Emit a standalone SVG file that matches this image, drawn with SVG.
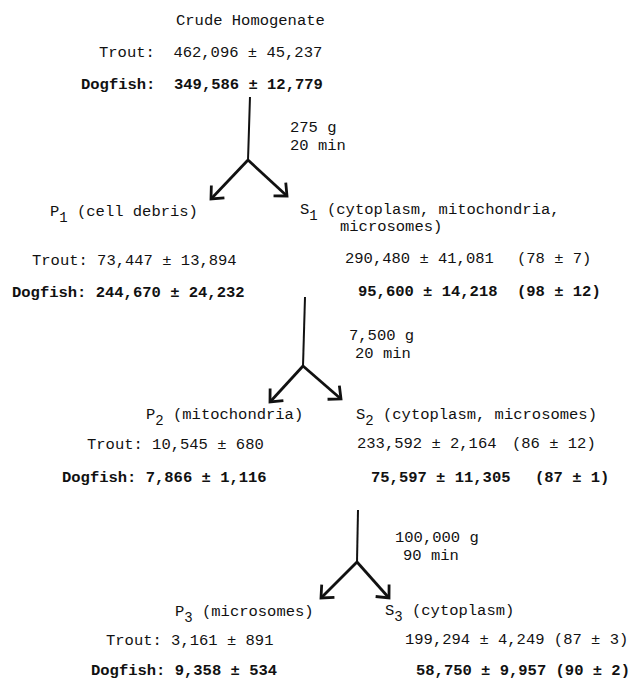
<svg xmlns="http://www.w3.org/2000/svg" width="635" height="680" viewBox="0 0 635 680">
<style>
text{font-family:"Liberation Mono","Courier New",monospace;font-size:15.5px;fill:#111;white-space:pre}
.b{font-weight:bold}
.sub{font-size:14px}
.stem{stroke:#111;stroke-width:2;fill:none}
.br{stroke:#111;stroke-width:2.8;fill:none;marker-end:url(#ah)}
</style>
<defs>
<marker id="ah" markerUnits="userSpaceOnUse" markerWidth="24" markerHeight="24" viewBox="-14 -12 16 24" refX="0" refY="0" orient="auto">
<path d="M-10,-9 L0,0 L-10,9" fill="none" stroke="#111" stroke-width="2.8" stroke-linejoin="miter"/>
</marker>
</defs>
<g id="connectors">
<path class="stem" d="M250,97 L248,160"/>
<path class="br" d="M248,160 L211,199"/>
<path class="br" d="M248,160 L287,196"/>
<path class="stem" d="M305,297 L303,366"/>
<path class="br" d="M303,366 L270,402"/>
<path class="br" d="M303,366 L341,399"/>
<path class="stem" d="M358,510 L357,562"/>
<path class="br" d="M357,562 L321,598"/>
<path class="br" d="M357,562 L389,598"/>
<text x="290" y="132">275 g</text>
<text x="290" y="150">20 min</text>
<text x="349" y="340">7,500 g</text>
<text x="355" y="358">20 min</text>
<text x="395" y="542">100,000 g</text>
<text x="403" y="560">90 min</text>
</g>
<g id="crude">
<text x="176" y="25">Crude Homogenate</text>
<text x="99" y="57">Trout:  462,096 ± 45,237</text>
<text class="b" x="81" y="89">Dogfish:  349,586 ± 12,779</text>
</g>
<g id="p1">
<text x="50" y="216">P<tspan class="sub" dy="6">1</tspan><tspan x="77" dy="-6">(cell debris)</tspan></text>
<text x="32" y="265">Trout: 73,447 ± 13,894</text>
<text class="b" x="12" y="297">Dogfish: 244,670 ± 24,232</text>
</g>
<g id="s1">
<text x="300" y="214">S<tspan class="sub" dy="6">1</tspan><tspan x="327" dy="-6">(cytoplasm, mitochondria,</tspan></text>
<text x="340" y="231">microsomes)</text>
<text x="345" y="263">290,480 ± 41,081</text>
<text x="517" y="263">(78 ± 7)</text>
<text class="b" x="358" y="296">95,600 ± 14,218</text>
<text class="b" x="517" y="296">(98 ± 12)</text>
</g>
<g id="p2">
<text x="146" y="419">P<tspan class="sub" dy="6">2</tspan><tspan x="173" dy="-6">(mitochondria)</tspan></text>
<text x="87" y="449">Trout: 10,545 ± 680</text>
<text class="b" x="62" y="482">Dogfish: 7,866 ± 1,116</text>
</g>
<g id="s2">
<text x="356" y="419">S<tspan class="sub" dy="6">2</tspan><tspan x="383" dy="-6">(cytoplasm, microsomes)</tspan></text>
<text x="357" y="448">233,592 ± 2,164</text>
<text x="512" y="448">(86 ± 12)</text>
<text class="b" x="371" y="482">75,597 ± 11,305</text>
<text class="b" x="535" y="482">(87 ± 1)</text>
</g>
<g id="p3">
<text x="175" y="616">P<tspan class="sub" dy="6">3</tspan><tspan x="202" dy="-6">(microsomes)</tspan></text>
<text x="106" y="645">Trout: 3,161 ± 891</text>
<text class="b" x="91" y="675">Dogfish: 9,358 ± 534</text>
</g>
<g id="s3">
<text x="385" y="615">S<tspan class="sub" dy="6">3</tspan><tspan x="412" dy="-6">(cytoplasm)</tspan></text>
<text x="405" y="644">199,294 ± 4,249 (87 ± 3)</text>
<text class="b" x="416" y="675">58,750 ± 9,957 (90 ± 2)</text>
</g>
</svg>
